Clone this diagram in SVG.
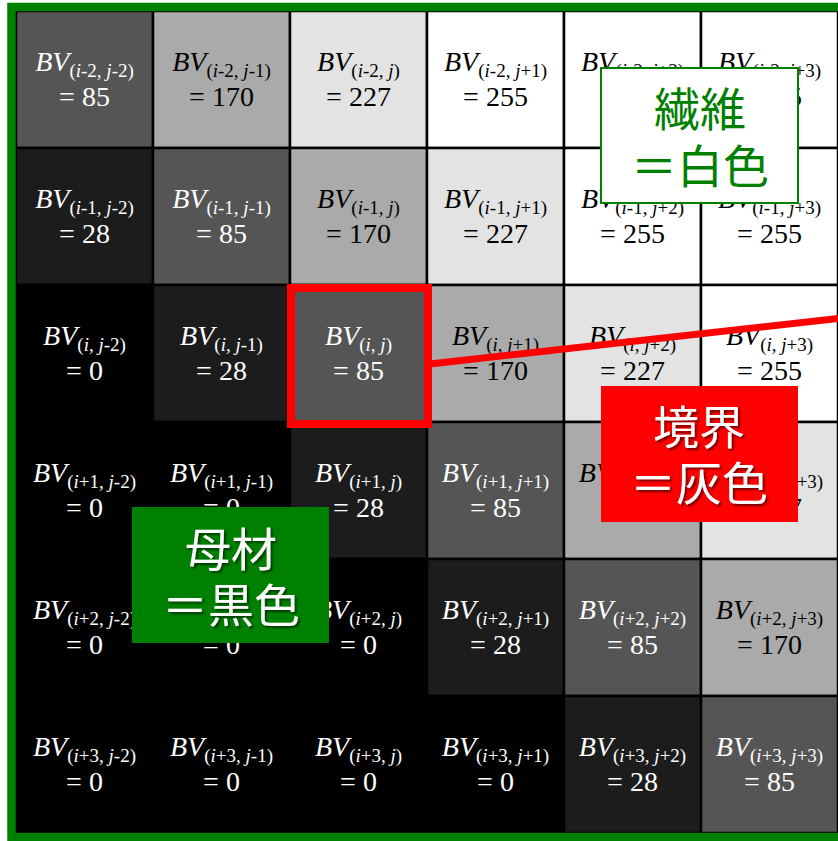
<svg xmlns="http://www.w3.org/2000/svg" width="838" height="841" viewBox="0 0 838 841">
<defs>
<style>
.cell{stroke:#000;stroke-width:2.5}
.bv{font-family:"Liberation Serif","Times New Roman",serif;font-size:28px;text-anchor:middle}
.w{fill:#fff}
.k{fill:#000}
.it{font-style:italic}
.sub{font-size:19px}
.lbl{font-family:"Noto Sans CJK JP","Noto Sans CJK SC",sans-serif;font-size:46px;text-anchor:middle}
</style>
<filter id="sh" x="-10%" y="-10%" width="130%" height="130%">
<feDropShadow dx="2" dy="2" stdDeviation="1" flood-color="#000" flood-opacity="0.55"/>
</filter>
</defs>
<rect x="0" y="0" width="838" height="841" fill="#fff"/>
<g id="grid">
<g id="c00"><rect class="cell" x="16" y="11" width="137" height="137" fill="#555"/><text class="bv w" x="84.5" y="71"><tspan class="it">BV</tspan><tspan class="sub" dy="6">(<tspan class="it">i</tspan>-2, <tspan class="it">j</tspan>-2)</tspan></text><text class="bv w" x="84.5" y="106">= 85</text></g>
<g id="c01"><rect class="cell" x="153" y="11" width="137" height="137" fill="#aaa"/><text class="bv k" x="221.5" y="71"><tspan class="it">BV</tspan><tspan class="sub" dy="6">(<tspan class="it">i</tspan>-2, <tspan class="it">j</tspan>-1)</tspan></text><text class="bv k" x="221.5" y="106">= 170</text></g>
<g id="c02"><rect class="cell" x="290" y="11" width="137" height="137" fill="#e3e3e3"/><text class="bv k" x="358.5" y="71"><tspan class="it">BV</tspan><tspan class="sub" dy="6">(<tspan class="it">i</tspan>-2, <tspan class="it">j</tspan>)</tspan></text><text class="bv k" x="358.5" y="106">= 227</text></g>
<g id="c03"><rect class="cell" x="427" y="11" width="137" height="137" fill="#fff"/><text class="bv k" x="495.5" y="71"><tspan class="it">BV</tspan><tspan class="sub" dy="6">(<tspan class="it">i</tspan>-2, <tspan class="it">j</tspan>+1)</tspan></text><text class="bv k" x="495.5" y="106">= 255</text></g>
<g id="c04"><rect class="cell" x="564" y="11" width="137" height="137" fill="#fff"/><text class="bv k" x="632.5" y="71"><tspan class="it">BV</tspan><tspan class="sub" dy="6">(<tspan class="it">i</tspan>-2, <tspan class="it">j</tspan>+2)</tspan></text><text class="bv k" x="632.5" y="106">= 255</text></g>
<g id="c05"><rect class="cell" x="701" y="11" width="137" height="137" fill="#fff"/><text class="bv k" x="769.5" y="71"><tspan class="it">BV</tspan><tspan class="sub" dy="6">(<tspan class="it">i</tspan>-2, <tspan class="it">j</tspan>+3)</tspan></text><text class="bv k" x="769.5" y="106">= 255</text></g>

<g id="c10"><rect class="cell" x="16" y="148" width="137" height="137" fill="#1c1c1c"/><text class="bv w" x="84.5" y="208"><tspan class="it">BV</tspan><tspan class="sub" dy="6">(<tspan class="it">i</tspan>-1, <tspan class="it">j</tspan>-2)</tspan></text><text class="bv w" x="84.5" y="243">= 28</text></g>
<g id="c11"><rect class="cell" x="153" y="148" width="137" height="137" fill="#555"/><text class="bv w" x="221.5" y="208"><tspan class="it">BV</tspan><tspan class="sub" dy="6">(<tspan class="it">i</tspan>-1, <tspan class="it">j</tspan>-1)</tspan></text><text class="bv w" x="221.5" y="243">= 85</text></g>
<g id="c12"><rect class="cell" x="290" y="148" width="137" height="137" fill="#aaa"/><text class="bv k" x="358.5" y="208"><tspan class="it">BV</tspan><tspan class="sub" dy="6">(<tspan class="it">i</tspan>-1, <tspan class="it">j</tspan>)</tspan></text><text class="bv k" x="358.5" y="243">= 170</text></g>
<g id="c13"><rect class="cell" x="427" y="148" width="137" height="137" fill="#e3e3e3"/><text class="bv k" x="495.5" y="208"><tspan class="it">BV</tspan><tspan class="sub" dy="6">(<tspan class="it">i</tspan>-1, <tspan class="it">j</tspan>+1)</tspan></text><text class="bv k" x="495.5" y="243">= 227</text></g>
<g id="c14"><rect class="cell" x="564" y="148" width="137" height="137" fill="#fff"/><text class="bv k" x="632.5" y="208"><tspan class="it">BV</tspan><tspan class="sub" dy="6">(<tspan class="it">i</tspan>-1, <tspan class="it">j</tspan>+2)</tspan></text><text class="bv k" x="632.5" y="243">= 255</text></g>
<g id="c15"><rect class="cell" x="701" y="148" width="137" height="137" fill="#fff"/><text class="bv k" x="769.5" y="208"><tspan class="it">BV</tspan><tspan class="sub" dy="6">(<tspan class="it">i</tspan>-1, <tspan class="it">j</tspan>+3)</tspan></text><text class="bv k" x="769.5" y="243">= 255</text></g>

<g id="c20"><rect class="cell" x="16" y="285" width="137" height="137" fill="#000"/><text class="bv w" x="84.5" y="345"><tspan class="it">BV</tspan><tspan class="sub" dy="6">(<tspan class="it">i</tspan>, <tspan class="it">j</tspan>-2)</tspan></text><text class="bv w" x="84.5" y="380">= 0</text></g>
<g id="c21"><rect class="cell" x="153" y="285" width="137" height="137" fill="#1c1c1c"/><text class="bv w" x="221.5" y="345"><tspan class="it">BV</tspan><tspan class="sub" dy="6">(<tspan class="it">i</tspan>, <tspan class="it">j</tspan>-1)</tspan></text><text class="bv w" x="221.5" y="380">= 28</text></g>
<g id="c22"><rect class="cell" x="290" y="285" width="137" height="137" fill="#555"/><text class="bv w" x="358.5" y="345"><tspan class="it">BV</tspan><tspan class="sub" dy="6">(<tspan class="it">i</tspan>, <tspan class="it">j</tspan>)</tspan></text><text class="bv w" x="358.5" y="380">= 85</text></g>
<g id="c23"><rect class="cell" x="427" y="285" width="137" height="137" fill="#aaa"/><text class="bv k" x="495.5" y="345"><tspan class="it">BV</tspan><tspan class="sub" dy="6">(<tspan class="it">i</tspan>, <tspan class="it">j</tspan>+1)</tspan></text><text class="bv k" x="495.5" y="380">= 170</text></g>
<g id="c24"><rect class="cell" x="564" y="285" width="137" height="137" fill="#e3e3e3"/><text class="bv k" x="632.5" y="345"><tspan class="it">BV</tspan><tspan class="sub" dy="6">(<tspan class="it">i</tspan>, <tspan class="it">j</tspan>+2)</tspan></text><text class="bv k" x="632.5" y="380">= 227</text></g>
<g id="c25"><rect class="cell" x="701" y="285" width="137" height="137" fill="#fff"/><text class="bv k" x="769.5" y="345"><tspan class="it">BV</tspan><tspan class="sub" dy="6">(<tspan class="it">i</tspan>, <tspan class="it">j</tspan>+3)</tspan></text><text class="bv k" x="769.5" y="380">= 255</text></g>

<g id="c30"><rect class="cell" x="16" y="422" width="137" height="137" fill="#000"/><text class="bv w" x="84.5" y="482"><tspan class="it">BV</tspan><tspan class="sub" dy="6">(<tspan class="it">i</tspan>+1, <tspan class="it">j</tspan>-2)</tspan></text><text class="bv w" x="84.5" y="517">= 0</text></g>
<g id="c31"><rect class="cell" x="153" y="422" width="137" height="137" fill="#000"/><text class="bv w" x="221.5" y="482"><tspan class="it">BV</tspan><tspan class="sub" dy="6">(<tspan class="it">i</tspan>+1, <tspan class="it">j</tspan>-1)</tspan></text><text class="bv w" x="221.5" y="517">= 0</text></g>
<g id="c32"><rect class="cell" x="290" y="422" width="137" height="137" fill="#1c1c1c"/><text class="bv w" x="358.5" y="482"><tspan class="it">BV</tspan><tspan class="sub" dy="6">(<tspan class="it">i</tspan>+1, <tspan class="it">j</tspan>)</tspan></text><text class="bv w" x="358.5" y="517">= 28</text></g>
<g id="c33"><rect class="cell" x="427" y="422" width="137" height="137" fill="#555"/><text class="bv w" x="495.5" y="482"><tspan class="it">BV</tspan><tspan class="sub" dy="6">(<tspan class="it">i</tspan>+1, <tspan class="it">j</tspan>+1)</tspan></text><text class="bv w" x="495.5" y="517">= 85</text></g>
<g id="c34"><rect class="cell" x="564" y="422" width="137" height="137" fill="#aaa"/><text class="bv k" x="632.5" y="482"><tspan class="it">BV</tspan><tspan class="sub" dy="6">(<tspan class="it">i</tspan>+1, <tspan class="it">j</tspan>+2)</tspan></text><text class="bv k" x="632.5" y="517">= 170</text></g>
<g id="c35"><rect class="cell" x="701" y="422" width="137" height="137" fill="#e3e3e3"/><text class="bv k" x="769.5" y="482"><tspan class="it">BV</tspan><tspan class="sub" dy="6">(<tspan class="it">i</tspan>+1, <tspan class="it">j</tspan>+3)</tspan></text><text class="bv k" x="769.5" y="517">= 227</text></g>

<g id="c40"><rect class="cell" x="16" y="559" width="137" height="137" fill="#000"/><text class="bv w" x="84.5" y="619"><tspan class="it">BV</tspan><tspan class="sub" dy="6">(<tspan class="it">i</tspan>+2, <tspan class="it">j</tspan>-2)</tspan></text><text class="bv w" x="84.5" y="654">= 0</text></g>
<g id="c41"><rect class="cell" x="153" y="559" width="137" height="137" fill="#000"/><text class="bv w" x="221.5" y="619"><tspan class="it">BV</tspan><tspan class="sub" dy="6">(<tspan class="it">i</tspan>+2, <tspan class="it">j</tspan>-1)</tspan></text><text class="bv w" x="221.5" y="654">= 0</text></g>
<g id="c42"><rect class="cell" x="290" y="559" width="137" height="137" fill="#000"/><text class="bv w" x="358.5" y="619"><tspan class="it">BV</tspan><tspan class="sub" dy="6">(<tspan class="it">i</tspan>+2, <tspan class="it">j</tspan>)</tspan></text><text class="bv w" x="358.5" y="654">= 0</text></g>
<g id="c43"><rect class="cell" x="427" y="559" width="137" height="137" fill="#1c1c1c"/><text class="bv w" x="495.5" y="619"><tspan class="it">BV</tspan><tspan class="sub" dy="6">(<tspan class="it">i</tspan>+2, <tspan class="it">j</tspan>+1)</tspan></text><text class="bv w" x="495.5" y="654">= 28</text></g>
<g id="c44"><rect class="cell" x="564" y="559" width="137" height="137" fill="#555"/><text class="bv w" x="632.5" y="619"><tspan class="it">BV</tspan><tspan class="sub" dy="6">(<tspan class="it">i</tspan>+2, <tspan class="it">j</tspan>+2)</tspan></text><text class="bv w" x="632.5" y="654">= 85</text></g>
<g id="c45"><rect class="cell" x="701" y="559" width="137" height="137" fill="#aaa"/><text class="bv k" x="769.5" y="619"><tspan class="it">BV</tspan><tspan class="sub" dy="6">(<tspan class="it">i</tspan>+2, <tspan class="it">j</tspan>+3)</tspan></text><text class="bv k" x="769.5" y="654">= 170</text></g>

<g id="c50"><rect class="cell" x="16" y="696" width="137" height="137" fill="#000"/><text class="bv w" x="84.5" y="756"><tspan class="it">BV</tspan><tspan class="sub" dy="6">(<tspan class="it">i</tspan>+3, <tspan class="it">j</tspan>-2)</tspan></text><text class="bv w" x="84.5" y="791">= 0</text></g>
<g id="c51"><rect class="cell" x="153" y="696" width="137" height="137" fill="#000"/><text class="bv w" x="221.5" y="756"><tspan class="it">BV</tspan><tspan class="sub" dy="6">(<tspan class="it">i</tspan>+3, <tspan class="it">j</tspan>-1)</tspan></text><text class="bv w" x="221.5" y="791">= 0</text></g>
<g id="c52"><rect class="cell" x="290" y="696" width="137" height="137" fill="#000"/><text class="bv w" x="358.5" y="756"><tspan class="it">BV</tspan><tspan class="sub" dy="6">(<tspan class="it">i</tspan>+3, <tspan class="it">j</tspan>)</tspan></text><text class="bv w" x="358.5" y="791">= 0</text></g>
<g id="c53"><rect class="cell" x="427" y="696" width="137" height="137" fill="#000"/><text class="bv w" x="495.5" y="756"><tspan class="it">BV</tspan><tspan class="sub" dy="6">(<tspan class="it">i</tspan>+3, <tspan class="it">j</tspan>+1)</tspan></text><text class="bv w" x="495.5" y="791">= 0</text></g>
<g id="c54"><rect class="cell" x="564" y="696" width="137" height="137" fill="#1c1c1c"/><text class="bv w" x="632.5" y="756"><tspan class="it">BV</tspan><tspan class="sub" dy="6">(<tspan class="it">i</tspan>+3, <tspan class="it">j</tspan>+2)</tspan></text><text class="bv w" x="632.5" y="791">= 28</text></g>
<g id="c55"><rect class="cell" x="701" y="696" width="137" height="137" fill="#555"/><text class="bv w" x="769.5" y="756"><tspan class="it">BV</tspan><tspan class="sub" dy="6">(<tspan class="it">i</tspan>+3, <tspan class="it">j</tspan>+3)</tspan></text><text class="bv w" x="769.5" y="791">= 85</text></g>
</g>
<rect id="frame" x="11.5" y="7" width="900" height="830" fill="none" stroke="#008000" stroke-width="8.5"/>
<g id="highlight"><rect x="291" y="288" width="137" height="136" fill="none" stroke="#ff0000" stroke-width="8"/></g>
<g id="connectors">
<line x1="430" y1="364" x2="860" y2="316" stroke="#ff0000" stroke-width="7"/>
</g>
<g id="label-fiber">
<rect x="601" y="68" width="197" height="135" fill="#fff" stroke="#008000" stroke-width="2"/>
<text class="lbl" x="700" y="126" fill="#008000">繊維</text>
<text class="lbl" x="700" y="183" fill="#008000">＝白色</text>
</g>
<g id="label-boundary">
<rect x="601" y="386" width="197" height="136" fill="#ff0000"/>
<g filter="url(#sh)">
<text class="lbl" x="699" y="444" fill="#fff">境界</text>
<text class="lbl" x="699" y="500" fill="#fff">＝灰色</text>
</g>
</g>
<g id="label-matrix">
<rect x="132" y="507" width="197" height="136" fill="#008000"/>
<g filter="url(#sh)">
<text class="lbl" x="231" y="566" fill="#fff">母材</text>
<text class="lbl" x="231" y="622" fill="#fff">＝黒色</text>
</g>
</g>
</svg>
